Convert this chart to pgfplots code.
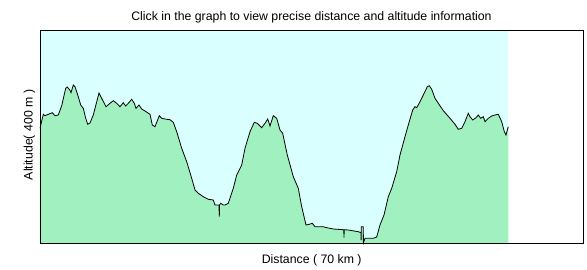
\documentclass[border=0pt]{standalone}
\usepackage{pgfplots}
\pgfplotsset{compat=1.18}
\usepackage{fontspec}
\setmainfont{Liberation Sans}
\definecolor{skybg}{HTML}{D9FFFF}
\definecolor{hillgreen}{HTML}{A0F0C0}
\pgfplotstableread{
x y
40 114.7
43.3 128.7
45 127.3
48.3 128.7
52.3 130.3
55 127.3
58.3 128
61.7 137.3
65.7 154.7
67.3 156
70 152.7
71 150.3
73.3 158
75 156.3
78.3 146.3
80.7 138
83.3 134.7
85.7 124.7
87.7 118.7
90 120
93.3 128
99 150
101.7 144.7
106 136.3
110 139.7
113.3 142.3
116.7 139.7
120 136.3
123.3 140.3
125.7 137
128.3 139.7
131.7 143.7
134.3 139.7
136 134.7
139 138
141.7 134
145 132
150 128.7
152.3 118
155 116.3
159.3 127.3
161.7 124.7
166.7 123.7
170 123.3
173.3 120.7
176.7 111.3
181.7 94.7
186.7 81.3
191.7 64.7
195 53
198.3 49.7
203.3 46.3
208.3 43.7
213.3 43
215 38
219 38
219.3 26.3
219.6 38
220.7 39.7
223.3 38
225 38
228.3 39.7
233.3 54.7
236.7 68
241.7 78
245 94.7
250 111.3
254.3 120.7
257.3 119.7
261.7 115.3
265 119.7
267.7 124
270 117
273.3 127.3
276.7 124.7
280 113
282.7 109.7
287.3 88
293.3 66.3
298.3 54.7
301.7 36.3
306 18
309.3 18.7
312.3 19.7
315 16.3
323.3 16.3
325 15.7
333.3 14
343.3 13.3
343.8 13.3
344 5.3
344.2 13.3
348.3 13
358.3 11.3
361 10.3
361.1 3
361.2 16.3
363.3 16.3
363.4 0
365 4.7
373.3 4.7
376.7 6
380 18
384 28
388.3 46.3
391.7 54.7
396.7 71.3
400 88
405 106.3
408.3 118
412.7 133
415 136.3
416.7 135.3
420 141.3
423.3 148
427.3 156.3
429.3 157.3
431.7 153.7
435 144.7
438.3 139.7
443.3 132.3
450 124.7
455 118.7
458.3 113.7
461.7 114.7
465 121.3
468.3 129.7
470 126.3
472.7 123
476 125.3
478.3 128
480.7 124.7
483.3 126.3
485 121.3
488.3 124.7
491.7 127
495 128
498.3 128.7
501.7 121.3
504.3 111.3
506 108
507.3 113
508.3 116.3
}\profile
\begin{document}
\begin{tikzpicture}
\path[use as bounding box] (-40pt,-26pt) rectangle (547pt,243pt);
\begin{axis}[
  at={(0,0)}, anchor=south west,
  scale only axis, width=543pt, height=213pt,
  xmin=40, xmax=583, ymin=0, ymax=213,
  xtick=\empty, ytick=\empty,
  axis on top, clip=false,
  axis line style={line width=0.9pt, black},
]
\fill[skybg] (axis cs:40,0) rectangle (axis cs:508.3,213);
\addplot[fill=hillgreen, draw=none] table[x=x,y=y]{\profile} \closedcycle;
\addplot[black, line width=0.8pt] table[x=x,y=y]{\profile};
\node[anchor=base, font=\fontsize{12.3}{14}\selectfont] at (axis cs:311.5,223) {Click in the graph to view precise distance and altitude information};
\node[anchor=base, font=\fontsize{12.3}{14}\selectfont] at (axis cs:311.7,-20) {Distance ( 70 km )};
\node[anchor=base, rotate=90, font=\fontsize{12.3}{14}\selectfont] at (axis cs:32.7,108) {Altitude( 400 m )};
\end{axis}
\end{tikzpicture}
\end{document}
